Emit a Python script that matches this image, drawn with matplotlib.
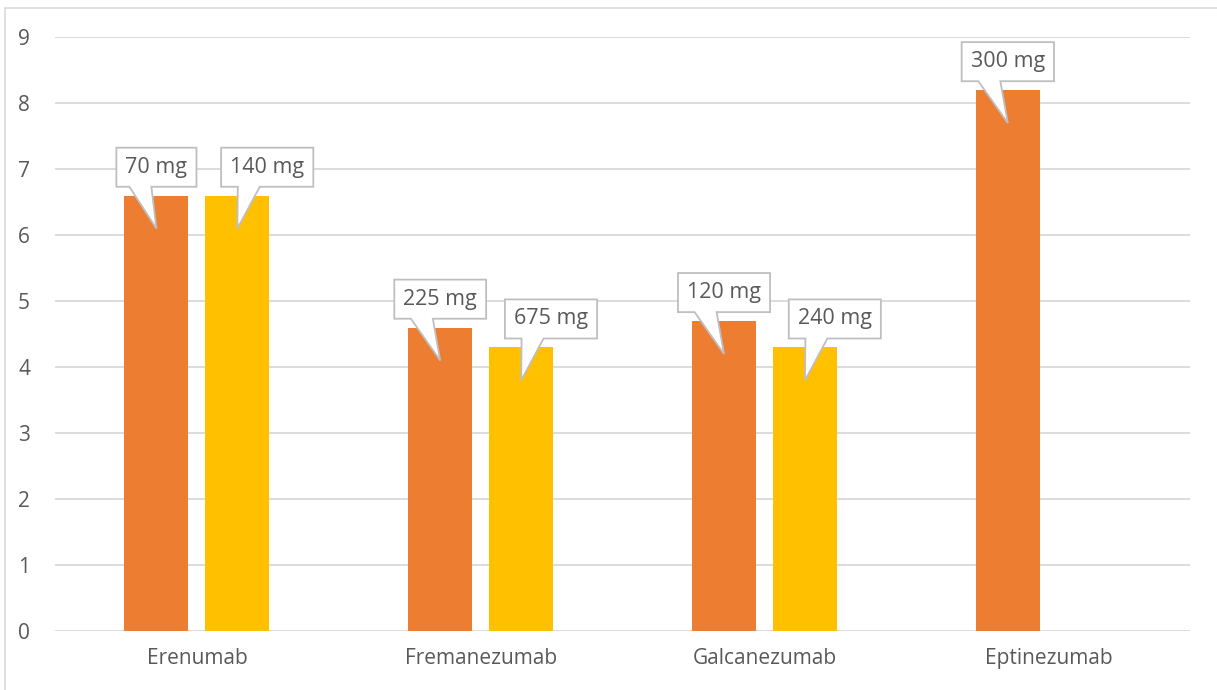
import matplotlib.pyplot as plt
from matplotlib.patches import Polygon
from matplotlib.transforms import IdentityTransform
import numpy as np

plt.rcParams['font.family'] = ['Open Sans', 'DejaVu Sans']

drugs = ['Erenumab', 'Fremanezumab', 'Galcanezumab', 'Eptinezumab']
dose_low = [6.6, 4.6, 4.7, 8.2]
dose_high = [6.6, 4.3, 4.3, np.nan]
label_low = ['70 mg', '225 mg', '120 mg', '300 mg']
label_high = ['140 mg', '675 mg', '240 mg', '']

orange = '#ED7D31'
yellow = '#FFC000'
text_c = '#595959'
grid_c = '#D9D9D9'
box_c = '#BFBFBF'

fig = plt.figure(figsize=(12.17, 6.9), dpi=100)
ax = fig.add_axes([0.0452, 0.0855, 0.9328, 0.8605])

# 图表外框
fig.patches.append(plt.Rectangle((0.004, -0.01), 1.2, 0.998, transform=fig.transFigure,
                                 fill=False, edgecolor='#D9D9D9', linewidth=1.2))

x = np.arange(len(drugs))
w = 0.2255
off = 0.1427
ax.bar(x - off, dose_low, width=w, color=orange, zorder=2)
ax.bar(x + off, dose_high, width=w, color=yellow, zorder=2)

ax.set_xlim(-0.5, 3.5)
ax.set_ylim(0, 9)
ax.set_yticks(range(10))
ax.set_xticks(x)
ax.set_xticklabels(drugs)
ax.grid(axis='y', color=grid_c, linewidth=1.3, zorder=0)
for s in ax.spines.values():
    s.set_visible(False)
ax.tick_params(axis='both', length=0, labelsize=15, labelcolor=text_c)
ax.tick_params(axis='y', pad=18)
ax.tick_params(axis='x', pad=12)

# 标注文字（先放文字，再按文字框大小画带尖角的标注框）
callouts = []
for i in range(len(drugs)):
    callouts.append((x[i] - off, dose_low[i], label_low[i], 0.0))
    if not np.isnan(dose_high[i]):
        callouts.append((x[i] + off, dose_high[i], label_high[i], 0.105))

texts = []
for xb, v, txt, dx in callouts:
    t = ax.text(xb + dx, v + 0.43, txt, ha='center', va='center', fontsize=15.5,
                color=text_c, zorder=6,
                bbox=dict(boxstyle='square,pad=0.42', fc='none', ec='none'))
    texts.append((t, xb, v))

fig.canvas.draw()
r = fig.canvas.get_renderer()
for t, xb, v in texts:
    bb = t.get_bbox_patch().get_window_extent(r)
    x0, y0, x1, y1 = bb.x0, bb.y0, bb.x1, bb.y1
    tip = ax.transData.transform((xb, v - 0.5))
    bc = x0 + 0.3 * (x1 - x0)
    verts = [(x0, y0), (bc - 11, y0), tuple(tip), (bc + 11, y0),
             (x1, y0), (x1, y1), (x0, y1)]
    ax.add_patch(Polygon(verts, closed=True, transform=IdentityTransform(),
                         fc='white', ec=box_c, lw=1.3, zorder=5))

plt.savefig('out.png', dpi=100)
